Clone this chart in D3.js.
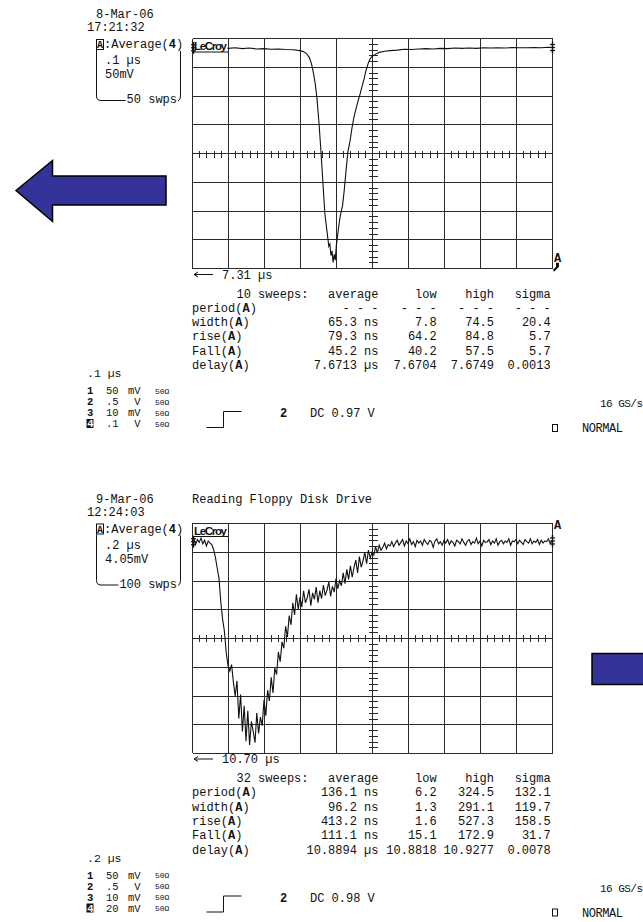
<!DOCTYPE html>
<html>
<head>
<meta charset="utf-8">
<script src="https://cdn.jsdelivr.net/npm/d3@7"></script>
<style>
body { margin: 0; background: #fff; }
svg text { font-family: "Liberation Mono", "DejaVu Sans Mono", monospace; fill: #111; }
</style>
</head>
<body>
<svg id="chart" width="643" height="922" font-size="12"></svg>
<script>
// ---- trace A (8-Mar-06), time in ns, level in mV ----
const timesA = [0,20,40,60,80,100,120,140,160,180,200,220,240,260,280,300,
  310,318,326,332,337,342,347,353,358,364,
  369,375,380,383,386,389,392,395,398,401,
  404,408,413,418,423,428,433,439,444,450,
  456,461,467,472,478,483,489,494,500,510,
  520,535,550,570,590,610,630,650,670,690,
  710,730,750,770,790,810,830,850,870,890,
  910,930,950,970,990,1000];
const voltsA = [183,182,183.5,182.5,183,182,183,181.5,182.5,181,181.5,180.5,181,180,179.5,178,
  176,173,166,155,140,122,96,50,5,-55,
  -105,-136,-162,-158,-178,-170,-190,-176,-186,-160,
  -146,-125,-105,-92,-64,-30,2,21,42,63,
  78,90,103,115,129,143,155,163,168,172,
  175,177,178,179,180.5,180,181,181.5,181,182,
  181.5,182.5,182,182.5,182,183,182.5,183,182.5,183.5,
  183,183,183.5,183,184,183.5];

// ---- trace B (9-Mar-06), one sample every 10 ns, level in mV ----
const stepB = 10;
const voltsB = [13.5,13.9,13.1,13.8,13.4,14.0,13.2,13.7,12.9,13.6,13.3,
  13.1,12.4,11.3,9.8,8.3,5.0,2.6,0.9,-2.1,-3.9,
  -4.7,-3.8,-6.3,-8.2,-6.1,-11.4,-8.0,-13.2,-9.6,-14.6,
  -10.3,-15.1,-11.8,-13.2,-14.8,-10.6,-13.5,-11.2,-12.4,-8.8,
  -11.0,-7.4,-8.9,-5.6,-7.8,-4.3,-5.2,-2.0,-3.4,-0.6,
  -1.5,1.6,0.1,3.1,1.8,4.9,3.2,6.1,4.0,5.7,
  4.3,6.6,4.9,5.6,6.8,4.5,6.3,5.4,7.1,4.9,
  6.6,5.5,7.4,5.9,6.7,7.8,5.8,7.2,6.4,8.3,
  6.9,8.0,7.3,9.1,7.6,9.6,8.2,10.1,8.5,9.9,
  10.9,9.1,11.4,9.9,10.8,12.0,10.4,12.3,11.2,12.0,
  11.6,12.8,11.9,13.0,12.3,12.7,13.3,12.5,13.1,12.9,
  13.5,12.8,13.3,13.7,13.0,13.4,13.8,12.9,13.6,13.2,
  13.9,13.1,13.5,12.8,13.7,13.3,13.6,13.0,13.8,13.4,
  13.1,13.7,13.5,12.7,13.6,13.9,13.2,13.5,13.0,13.7,
  13.3,13.8,13.1,13.6,13.4,12.9,13.7,13.5,13.2,13.9,
  13.4,13.0,13.6,13.8,13.1,13.5,13.3,14.0,13.2,13.6,
  12.9,13.7,13.4,13.5,13.8,13.1,13.6,13.3,13.9,13.0,
  13.5,13.7,13.2,13.6,13.4,13.9,13.0,13.6,13.5,13.8,
  13.2,13.7,13.4,13.1,13.8,13.5,13.3,13.9,13.2,13.6,
  13.4,13.8,13.1,13.7,13.3,13.6,13.5,13.9,13.2,13.6];

// ---- measurement tables ----
const measHeads = ["average", "low", "high", "sigma"];
const measNames = ["period", "width", "rise", "Fall", "delay"];
const measA = [
  ["- - -", "- - -", "- - -", "- - -"],
  ["65.3 ns", "7.8", "74.5", "20.4"],
  ["79.3 ns", "64.2", "84.8", "5.7"],
  ["45.2 ns", "40.2", "57.5", "5.7"],
  ["7.6713 µs", "7.6704", "7.6749", "0.0013"]
];
const measB = [
  ["136.1 ns", "6.2", "324.5", "132.1"],
  ["96.2 ns", "1.3", "291.1", "119.7"],
  ["413.2 ns", "1.6", "527.3", "158.5"],
  ["111.1 ns", "15.1", "172.9", "31.7"],
  ["10.8894 µs", "10.8818", "10.9277", "0.0078"]
];

// ---- channel settings ----
const chansA = [["1", "50", "mV"], ["2", ".5", "V"], ["3", "10", "mV"], ["4", ".1", "V"]];
const chansB = [["1", "50", "mV"], ["2", ".5", "V"], ["3", "10", "mV"], ["4", "20", "mV"]];

const panels = [
  { dy: 0, date: "8-Mar-06", clock: "17:21:32", title: "", timebase: ".1 µs", vdiv: "50mV",
    swps: "50 swps", sweeps: "10", cursor: "7.31 µs", dc: "0.97 V",
    nsPerDiv: 100, mvPerDiv: 50, times: timesA, volts: voltsA, meas: measA, chans: chansA,
    markLevel: -182, markBelow: true },
  { dy: 484.5, date: "9-Mar-06", clock: "12:24:03", title: "Reading Floppy Disk Drive", timebase: ".2 µs", vdiv: "4.05mV",
    swps: "100 swps", sweeps: "32", cursor: "10.70 µs", dc: "0.98 V",
    nsPerDiv: 200, mvPerDiv: 4.05, times: voltsB.map((v, i) => i * stepB), volts: voltsB, meas: measB, chans: chansB,
    markLevel: 15.9, markBelow: false }
];

const svg = d3.select("#chart");
const ink = "#111";

function boldA(t) {
  t.append("tspan").text("(");
  t.append("tspan").attr("font-weight", "bold").text("A");
  t.append("tspan").text(")");
}

function traceMark(g, mx, my) {
  g.append("line").attr("x1", mx + 0.5).attr("x2", mx + 0.5).attr("y1", my - 6).attr("y2", my + 6)
    .attr("stroke", ink).attr("stroke-width", 1.5);
  [-3, 0, 3].forEach(o => g.append("line").attr("x1", mx - 2).attr("x2", mx + 3)
    .attr("y1", my + o).attr("y2", my + o).attr("stroke", ink).attr("stroke-width", 1.2));
}

function drawPanel(p) {
  const g = svg.append("g").attr("transform", "translate(0," + p.dy + ")");
  const L = 192, R = 552, T = 38, B = 268.2;
  const divX = d3.scaleLinear().domain([0, 10]).range([L, R]);
  const divY = d3.scaleLinear().domain([-4, 4]).range([B, T]);
  const x = d3.scaleLinear().domain([0, p.nsPerDiv * 10]).range([L, R]);
  const y = d3.scaleLinear().domain([-4 * p.mvPerDiv, 4 * p.mvPerDiv]).range([B, T]);
  const px = v => Math.round(v) + 0.5;

  // grid
  const grid = g.append("g").attr("stroke", "#2a2a2a").attr("stroke-width", 1).attr("shape-rendering", "crispEdges");
  grid.selectAll("line.v").data(d3.range(0, 11)).enter().append("line")
    .attr("x1", d => px(divX(d))).attr("x2", d => px(divX(d)))
    .attr("y1", px(T)).attr("y2", px(B));
  grid.selectAll("line.h").data(d3.range(-4, 5)).enter().append("line")
    .attr("y1", d => px(divY(d))).attr("y2", d => px(divY(d)))
    .attr("x1", px(L)).attr("x2", px(R));

  // minor ticks on the centre axes
  const cx = px(divX(5)), cy = px(divY(0));
  const minorX = d3.range(1, 50).filter(k => k % 5 !== 0);
  grid.selectAll("line.mx").data(minorX).enter().append("line")
    .attr("x1", k => px(divX(k / 5))).attr("x2", k => px(divX(k / 5)))
    .attr("y1", cy - 3).attr("y2", cy + 4);
  const minorY = d3.range(-19, 20).filter(k => k % 5 !== 0);
  grid.selectAll("line.my").data(minorY).enter().append("line")
    .attr("y1", k => px(divY(k / 5))).attr("y2", k => px(divY(k / 5)))
    .attr("x1", cx - 4).attr("x2", cx + 5);

  // trace
  const pts = p.times.map((t, i) => [t, p.volts[i]]);
  g.append("path").datum(pts)
    .attr("fill", "none").attr("stroke", ink).attr("stroke-width", 1.1)
    .attr("d", d3.line().x(d => x(d[0])).y(d => y(d[1])));

  // LeCroy logo
  g.append("rect").attr("x", L + 1.5).attr("y", 40.5).attr("width", 34).attr("height", 11).attr("fill", "#fff");
  g.append("text").attr("x", L + 2).attr("y", 50).attr("textLength", 33)
    .style("font-family", "'Liberation Sans', Arial, sans-serif").style("font-size", "11.5px")
    .style("font-weight", "bold").text("LeCroy");
  g.append("line").attr("x1", L + 1).attr("x2", L + 36).attr("y1", 52).attr("y2", 52)
    .attr("stroke", ink).attr("stroke-width", 1);

  // trace end markers
  traceMark(g, R, y(p.volts[p.volts.length - 1]));
  traceMark(g, L + 1, y(p.volts[0]));

  // channel A marker on the right edge
  const my = y(p.markLevel);
  g.append("text").attr("x", R + 2).attr("y", my + 4.5).style("font-size", "12px")
    .attr("font-weight", "bold").text("A");
  if (p.markBelow) {
    g.append("path").attr("fill", ink)
      .attr("d", `M${R + 4},${my + 5} L${R + 7},${my + 5} L${R + 7},${my + 9} L${R + 2},${my + 14} L${R + 1},${my + 12} L${R + 4},${my + 9} Z`);
  }

  // header texts
  g.append("text").attr("x", 96).attr("y", 18).text(p.date);
  g.append("text").attr("x", 87).attr("y", 31).text(p.clock);
  if (p.title) g.append("text").attr("x", L).attr("y", 18).text(p.title);

  // A:Average(4) box
  g.append("rect").attr("x", 96.5).attr("y", 39.5).attr("width", 7).attr("height", 10)
    .attr("fill", "none").attr("stroke", ink);
  g.append("text").attr("x", 100).attr("y", 48.3).attr("text-anchor", "middle")
    .style("font-size", "10px").attr("font-weight", "bold").text("A");
  const av = g.append("text").attr("x", 104).attr("y", 48);
  av.append("tspan").text(":Average(");
  av.append("tspan").attr("font-weight", "bold").text("4");
  av.append("tspan").text(")");
  g.append("text").attr("x", 105).attr("y", 64).text(p.timebase);
  g.append("text").attr("x", 105).attr("y", 78).text(p.vdiv);
  const sw = g.append("text").attr("x", 177).attr("y", 103).attr("text-anchor", "end").text(p.swps);
  const swStart = 177 - sw.node().getComputedTextLength();
  g.append("path").attr("fill", "none").attr("stroke", ink).attr("stroke-width", 1)
    .attr("d", `M96.5,50 L96.5,96 Q96.5,100.5 101,100.5 L${swStart - 1},100.5`);
  g.append("path").attr("fill", "none").attr("stroke", ink).attr("stroke-width", 1)
    .attr("d", "M180.5,51 L180.5,96 Q180.5,100 178,101");

  // cursor readout
  g.append("line").attr("x1", L + 2).attr("x2", L + 21).attr("y1", 274.5).attr("y2", 274.5)
    .attr("stroke", ink);
  g.append("path").attr("fill", "none").attr("stroke", ink)
    .attr("d", `M${L + 6},272 L${L + 2},274.5 L${L + 6},277`);
  g.append("text").attr("x", 222).attr("y", 278.5).text(p.cursor);

  // measurement table
  const colEnds = [378.5, 436.7, 494, 550.7];
  const rowY = i => 297.5 + i * 14.3;
  g.append("text").attr("x", 308.5).attr("y", rowY(0)).attr("text-anchor", "end").text(p.sweeps + " sweeps:");
  measHeads.forEach((h, j) => g.append("text").attr("x", colEnds[j]).attr("y", rowY(0))
    .attr("text-anchor", "end").text(h));
  measNames.forEach((n, i) => {
    const t = g.append("text").attr("x", L).attr("y", rowY(i + 1));
    t.append("tspan").text(n);
    boldA(t);
    p.meas[i].forEach((v, j) => g.append("text").attr("x", colEnds[j]).attr("y", rowY(i + 1))
      .attr("text-anchor", "end").text(v));
  });

  // channel list
  g.append("text").attr("x", 87).attr("y", 377).style("font-size", "11.5px").text(p.timebase);
  p.chans.forEach((c, i) => {
    const yy = 394 + i * 11;
    if (c[0] === "4") {
      g.append("rect").attr("x", 86.5).attr("y", yy - 8).attr("width", 7).attr("height", 9).attr("fill", ink);
      g.append("text").attr("x", 87.2).attr("y", yy).style("font-size", "10.5px").attr("font-weight", "bold")
        .style("fill", "#fff").text(c[0]);
    } else {
      g.append("text").attr("x", 87).attr("y", yy).style("font-size", "10.5px").attr("font-weight", "bold").text(c[0]);
    }
    g.append("text").attr("x", 118.5).attr("y", yy).style("font-size", "10.5px").attr("text-anchor", "end").text(c[1]);
    g.append("text").attr("x", 140.5).attr("y", yy).style("font-size", "10.5px").attr("text-anchor", "end").text(c[2]);
    g.append("text").attr("x", 155).attr("y", yy - 0.5).style("font-size", "8px").text("50Ω");
  });

  // trigger symbol and coupling
  g.append("path").attr("fill", "none").attr("stroke", ink).attr("stroke-width", 1)
    .attr("d", "M206.5,427.5 L223.5,427.5 L223.5,411.5 L241.5,411.5");
  g.append("text").attr("x", 280).attr("y", 417).attr("font-weight", "bold").text("2");
  g.append("text").attr("x", 310).attr("y", 417).text("DC " + p.dc);

  g.append("text").attr("x", 600).attr("y", 407).style("font-size", "11px").attr("textLength", 43).text("16 GS/s");
  g.append("rect").attr("x", 552.5).attr("y", 424.5).attr("width", 5).attr("height", 7)
    .attr("fill", "none").attr("stroke", ink);
  g.append("text").attr("x", 582).attr("y", 432).style("font-size", "12px").attr("textLength", 41).text("NORMAL");
}

panels.forEach(drawPanel);

// big blue arrows
svg.append("path").attr("fill", "#333399").attr("stroke", "#000").attr("stroke-width", 1.5)
  .attr("d", "M16,190.5 L52.5,160.5 L52.5,176 L166,176 L166,205 L52.5,205 L52.5,221.5 Z");
svg.append("path").attr("fill", "#333399").attr("stroke", "#000").attr("stroke-width", 1.5)
  .attr("d", "M592,653.5 L650,653.5 L650,684.5 L592,684.5 Z");
</script>
</body>
</html>
